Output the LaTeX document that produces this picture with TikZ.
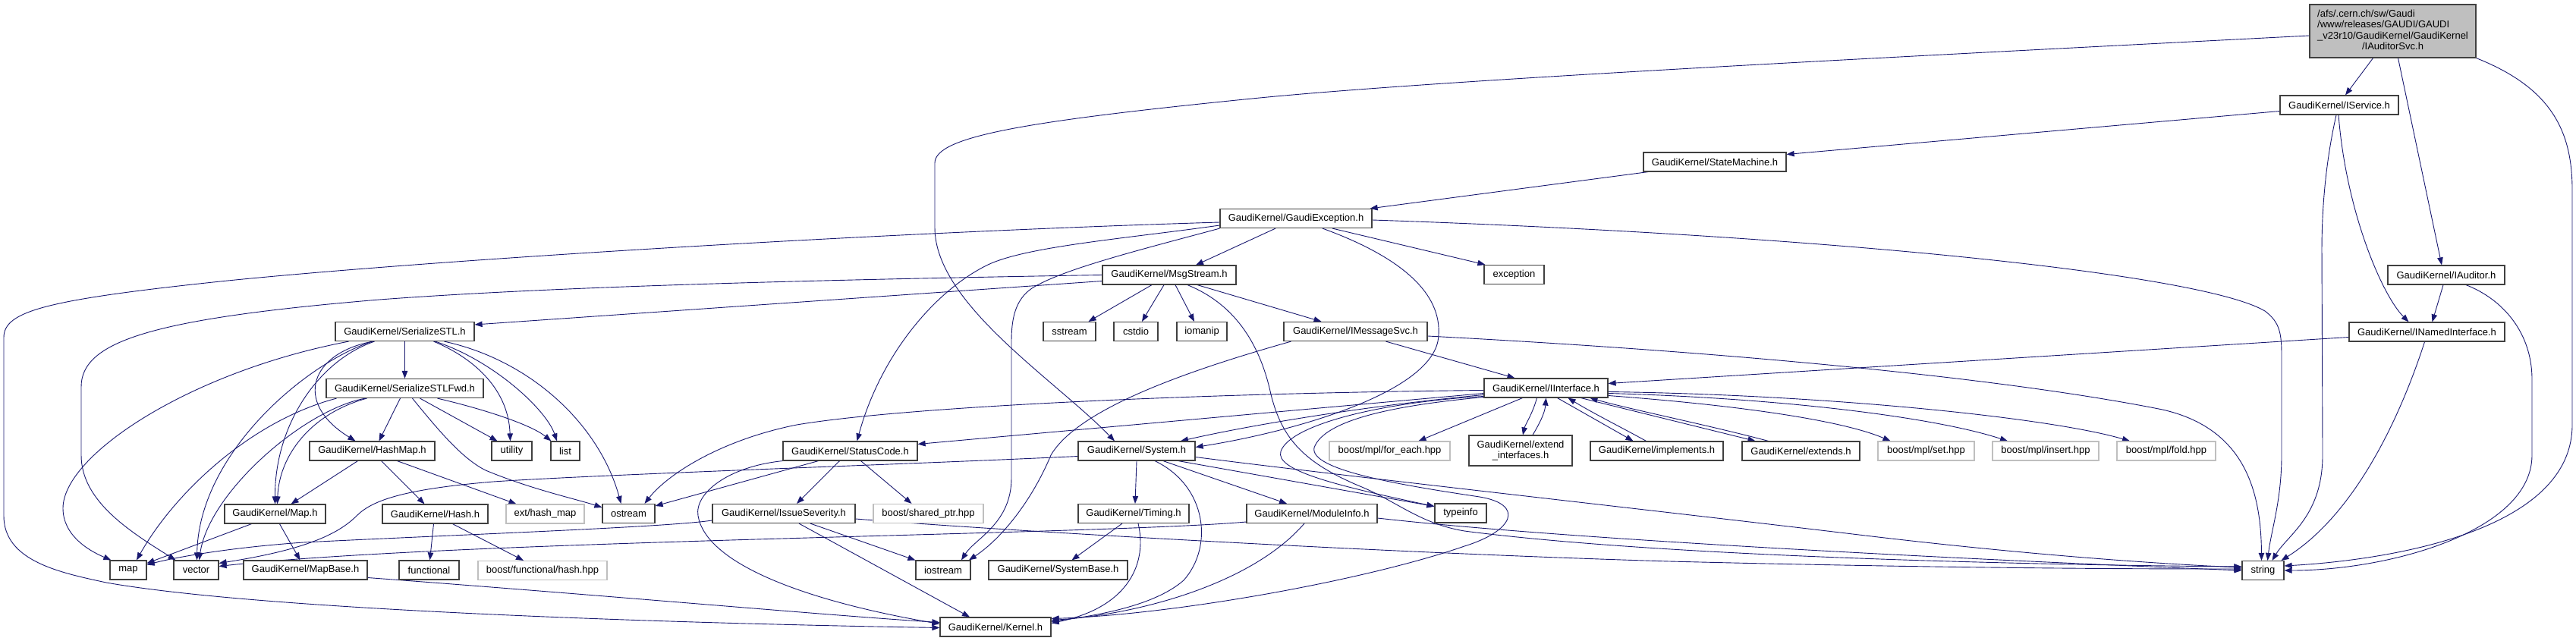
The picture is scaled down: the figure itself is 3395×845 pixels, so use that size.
\documentclass[tikz,border=0pt]{standalone}
\usepackage{fontspec}
\setmainfont{Liberation Sans}
\usetikzlibrary{arrows.meta,backgrounds}
\definecolor{edgec}{RGB}{25,25,112}
\definecolor{gray75}{HTML}{BFBFBF}
\begin{document}
\begin{tikzpicture}[x=1pt,y=-1pt,
  box/.style={draw=black!75,line width=1.2pt,fill=white,inner sep=0pt,minimum height=25pt,
    font=\fontsize{13}{14.5}\selectfont,align=center},
  gbox/.style={box,draw=gray75},
  dep/.style={draw=edgec,line width=0.9pt,-{Triangle[length=10pt,width=7.5pt]}},
]
\useasboundingbox (0,0) rectangle (3395,845);
% ---------- nodes ----------
\node[box,fill=gray75,minimum width=219pt,minimum height=70pt] (main) at (3153.5,41)
  {\begin{tabular}{@{}l@{}}/afs/.cern.ch/sw/Gaudi\\/www/releases/GAUDI/GAUDI\\\_v23r10/GaudiKernel/GaudiKernel\\\multicolumn{1}{@{}c@{}}{/IAuditorSvc.h}\end{tabular}};
\node[box,minimum width=156pt] (iserv) at (3083,138.5) {GaudiKernel/IService.h};
\node[box,minimum width=188pt] (state) at (2260,213.5) {GaudiKernel/StateMachine.h};
\node[box,minimum width=200pt] (gexc) at (1708,288) {GaudiKernel/GaudiException.h};
\node[box,minimum width=176pt] (msg) at (1541,362.5) {GaudiKernel/MsgStream.h};
\node[box,minimum width=79pt] (exc) at (1995.5,362) {exception};
\node[box,minimum width=69pt] (sstream) at (1409.5,437) {sstream};
\node[box,minimum width=58pt] (cstdio) at (1497,437) {cstdio};
\node[box,minimum width=66pt] (iomanip) at (1584,437) {iomanip};
\node[box,minimum width=189pt] (imsg) at (1786.5,437) {GaudiKernel/IMessageSvc.h};
\node[box,minimum width=183pt] (sstl) at (533.5,437) {GaudiKernel/SerializeSTL.h};
\node[box,minimum width=154pt] (iaud) at (3224,362.5) {GaudiKernel/IAuditor.h};
\node[box,minimum width=205pt] (inamed) at (3198.5,437.5) {GaudiKernel/INamedInterface.h};
\node[box,minimum width=163pt] (iint) at (2037.5,511.5) {GaudiKernel/IInterface.h};
\node[box,minimum width=207pt] (fwd) at (533.5,512) {GaudiKernel/SerializeSTLFwd.h};
\node[box,minimum width=165pt] (hashmap) at (490.5,594.5) {GaudiKernel/HashMap.h};
\node[box,minimum width=53pt] (utility) at (674.5,594.5) {utility};
\node[box,minimum width=38pt] (list) at (745,594.5) {list};
\node[box,minimum width=177pt] (status) at (1120.5,594.5) {GaudiKernel/StatusCode.h};
\node[box,minimum width=154pt] (system) at (1498,594.5) {GaudiKernel/System.h};
\node[gbox,minimum width=159pt] (foreach) at (1831.5,594.5) {boost/mpl/for\_each.hpp};
\node[box,minimum width=136pt,minimum height=40pt] (extif) at (2004,594) {GaudiKernel/extend\\\_interfaces.h};
\node[box,minimum width=175pt] (impl) at (2183.5,594.5) {GaudiKernel/implements.h};
\node[box,minimum width=155pt] (extends) at (2373.5,594.5) {GaudiKernel/extends.h};
\node[gbox,minimum width=127pt] (set) at (2538.5,594.5) {boost/mpl/set.hpp};
\node[gbox,minimum width=140pt] (insert) at (2696,594.5) {boost/mpl/insert.hpp};
\node[gbox,minimum width=130pt] (fold) at (2855,594.5) {boost/mpl/fold.hpp};
\node[box,minimum width=133pt] (map2) at (362.5,677.5) {GaudiKernel/Map.h};
\node[box,minimum width=139pt] (hash) at (573.5,677.5) {GaudiKernel/Hash.h};
\node[gbox,minimum width=103pt] (exthm) at (718.5,677.5) {ext/hash\_map};
\node[box,minimum width=69pt] (ostream) at (828.5,677) {ostream};
\node[box,minimum width=188pt] (issue) at (1033,677) {GaudiKernel/IssueSeverity.h};
\node[gbox,minimum width=145pt] (shptr) at (1223.5,677) {boost/shared\_ptr.hpp};
\node[box,minimum width=146pt] (timing) at (1494,677) {GaudiKernel/Timing.h};
\node[box,minimum width=172pt] (modinfo) at (1729,677) {GaudiKernel/ModuleInfo.h};
\node[box,minimum width=68pt] (typeinfo) at (1925,676.5) {typeinfo};
\node[box,minimum width=48pt] (map) at (169,751.5) {map};
\node[box,minimum width=59pt] (vector) at (258.5,751.5) {vector};
\node[box,minimum width=163pt] (mapbase) at (402.5,751.5) {GaudiKernel/MapBase.h};
\node[box,minimum width=79pt] (functional) at (565.5,751.5) {functional};
\node[gbox,minimum width=170pt] (bfhash) at (715,752) {boost/functional/hash.hpp};
\node[box,minimum width=72pt] (iostream) at (1243,751.5) {iostream};
\node[box,minimum width=183pt] (sysbase) at (1394.5,751.5) {GaudiKernel/SystemBase.h};
\node[box,minimum width=55pt] (string) at (2982.5,752) {string};
\node[box,minimum width=146pt] (kernel) at (1312,826.5) {GaudiKernel/Kernel.h};
% ---------- edges ----------
\begin{pgfonlayer}{background}
% IAuditorSvc
\draw[dep] ([xshift=-26]main.south) -- ([xshift=8]iserv.north);
\draw[dep] ([xshift=7]main.south) -- ([xshift=-6]iaud.north);
\draw[dep] (main.south east) .. controls (3360,115) and (3390,170) .. (3390,250) -- (3390,560) .. controls (3390,700) and (3150,738) .. ([yshift=6]string.east);
\draw[dep] ([yshift=-6]main.west) .. controls (2500,75) and (1900,105) .. (1650,130) .. controls (1350,160) and (1232,180) .. (1232,215) -- (1232,300) .. controls (1232,400) and (1390,500) .. ([xshift=-29]system.north);
% IService
\draw[dep] ([yshift=-8]iserv.west) -- ([yshift=10]state.east);
\draw[dep] ([xshift=-1]iserv.south) .. controls (3092,280) and (3140,390) .. ([xshift=-24]inamed.north);
\draw[dep] ([xshift=-4]iserv.south) .. controls (3068,200) and (3060,260) .. (3060,330) -- (3061,600) .. controls (3061,680) and (3015,705) .. ([xshift=12]string.north);
% IAuditor
\draw[dep] ([xshift=-4]iaud.south) -- ([xshift=7]inamed.north);
\draw[dep] ([xshift=26]iaud.south) .. controls (3300,395) and (3337,440) .. (3337,500) -- (3337,600) .. controls (3337,700) and (3150,752) .. (string.east);
% INamedInterface
\draw[dep] ([xshift=-3]inamed.south) .. controls (3160,560) and (3100,680) .. ([xshift=24]string.north);
\draw[dep] ([yshift=-7]inamed.west) -- ([yshift=6]iint.east);
% StateMachine
\draw[dep] ([xshift=-88]state.south) -- ([xshift=-3]gexc.north east);
% GaudiException
\draw[dep] ([xshift=-27]gexc.south) -- ([xshift=35]msg.north);
\draw[dep] ([xshift=48]gexc.south) -- ([xshift=2]exc.north west);
\draw[dep] ([yshift=-2]gexc.east) .. controls (2400,310) and (2900,360) .. (2985,410) .. controls (3005,425) and (3007,440) .. (3007,470) -- (3007,600) .. controls (3007,660) and (2993,700) .. ([xshift=6]string.north);
\draw[dep] ([yshift=-5]gexc.west) .. controls (1200,305) and (600,340) .. (300,370) .. controls (60,395) and (5,410) .. (5,445) -- (5,680) .. controls (5,740) and (80,755) .. (140,768) .. controls (350,805) and (900,822) .. ([yshift=-1]kernel.west);
\draw[dep] ([yshift=-9]gexc.west) .. controls (1480,315) and (1350,325) .. (1300,350) .. controls (1230,385) and (1160,470) .. ([xshift=9]status.north);
\draw[dep] (gexc.south west) .. controls (1500,330) and (1400,355) .. (1360,380) .. controls (1338,395) and (1333,420) .. (1333,450) -- (1333,630) .. controls (1333,690) and (1285,710) .. ([xshift=24]iostream.north);
\draw[dep] ([xshift=35]gexc.south) .. controls (1850,340) and (1905,390) .. (1895,450) .. controls (1880,520) and (1700,570) .. ([yshift=5]system.east);
% MsgStream
\draw[dep] ([xshift=-23]msg.south) -- ([xshift=25]sstream.north);
\draw[dep] ([xshift=-7]msg.south) -- ([xshift=8]cstdio.north);
\draw[dep] ([xshift=8]msg.south) -- ([xshift=-10]iomanip.north);
\draw[dep] ([xshift=37]msg.south) -- ([xshift=-45]imsg.north);
\draw[dep] ([xshift=24]msg.south) .. controls (1625,400) and (1660,450) .. (1675,520) .. controls (1690,580) and (1720,610) .. (1790,640) .. controls (1840,660) and (1870,690) .. (1930,700) .. controls (2200,735) and (2700,745) .. ([yshift=5]string.west);
\draw[dep] ([yshift=-8]msg.west) -- ([yshift=9]sstl.east);
\draw[dep] (msg.west) .. controls (1000,370) and (700,380) .. (500,395) .. controls (200,420) and (107,450) .. (107,510) -- (107,600) .. controls (107,660) and (170,700) .. ([xshift=-27]vector.north);
% IMessageSvc
\draw[dep] ([xshift=40]imsg.south) -- ([xshift=-41]iint.north);
\draw[dep] ([xshift=-85]imsg.south) .. controls (1560,490) and (1420,540) .. (1385,600) .. controls (1360,660) and (1320,710) .. ([xshift=34]iostream.north);
\draw[dep] ([yshift=-6]imsg.east) .. controls (2300,465) and (2650,500) .. (2850,540) .. controls (2960,565) and (2980,650) .. ([xshift=-2]string.north);
% SerializeSTL
\draw[dep] (sstl.south) -- (fwd.north);
\draw[dep] ([xshift=38]sstl.south) .. controls (620,470) and (670,510) .. ([xshift=-2]utility.north);
\draw[dep] ([xshift=40]sstl.south) .. controls (650,475) and (720,540) .. ([xshift=-11]list.north);
\draw[dep] ([xshift=52]sstl.south) .. controls (700,475) and (790,560) .. ([xshift=-10]ostream.north);
\draw[dep] ([xshift=-42]sstl.south) .. controls (410,465) and (385,530) .. ([xshift=-22]hashmap.north);
\draw[dep] ([xshift=-40]sstl.south) .. controls (420,475) and (362,560) .. (map2.north);
\draw[dep] ([xshift=-43]sstl.south) .. controls (400,480) and (262,600) .. ([xshift=1]vector.north);
\draw[dep] ([xshift=-74]sstl.south) .. controls (250,490) and (83,600) .. (83,670) .. controls (83,705) and (115,725) .. ([xshift=2]map.north west);
% SerializeSTLFwd
\draw[dep] ([xshift=-6]fwd.south) -- ([xshift=9]hashmap.north);
\draw[dep] ([xshift=20]fwd.south) -- ([xshift=-19]utility.north);
\draw[dep] ([xshift=43]fwd.south) .. controls (640,540) and (700,560) .. ([xshift=1]list.north west);
\draw[dep] ([xshift=10]fwd.south) .. controls (580,570) and (610,605) .. (640,620) .. controls (700,645) and (760,658) .. ([yshift=8]ostream.west);
\draw[dep] ([xshift=-50]fwd.south) .. controls (410,545) and (368,600) .. ([xshift=3]map2.north);
\draw[dep] ([xshift=-52]fwd.south) .. controls (400,540) and (275,650) .. ([xshift=4]vector.north);
\draw[dep] ([xshift=-90]fwd.south) .. controls (330,555) and (230,650) .. ([xshift=11]map.north);
% HashMap
\draw[dep] ([xshift=-19]hashmap.south) -- ([xshift=21]map2.north);
\draw[dep] ([xshift=12]hashmap.south) -- ([xshift=-14]hash.north);
\draw[dep] ([xshift=33]hashmap.south) -- ([xshift=-38]exthm.north);
% Map
\draw[dep] ([xshift=6]map2.south) -- ([xshift=-7]mapbase.north);
\draw[dep] ([xshift=-31]map2.south) -- ([yshift=9]map.east);
% Hash
\draw[dep] ([xshift=-2]hash.south) -- ([xshift=1]functional.north);
\draw[dep] ([xshift=23]hash.south) -- ([xshift=-25]bfhash.north);
% MapBase
\draw[dep] ([yshift=-10]mapbase.east) .. controls (800,785) and (1100,812) .. ([yshift=6]kernel.west);
% StatusCode
\draw[dep] ([xshift=-14]status.south) -- ([xshift=17]issue.north);
\draw[dep] ([xshift=14]status.south) -- ([xshift=-22]shptr.north);
\draw[dep] ([xshift=-42]status.south) -- ([yshift=10]ostream.east);
\draw[dep] (status.south west) .. controls (960,615) and (915,650) .. (920,680) .. controls (930,740) and (1050,790) .. ([yshift=4]kernel.west);
% IssueSeverity
\draw[dep] ([yshift=-9]issue.west) .. controls (880,695) and (600,705) .. (400,715) .. controls (300,722) and (230,735) .. ([yshift=7]map.east);
\draw[dep] ([yshift=-7]issue.east) .. controls (1300,698) and (1800,728) .. (2200,740) .. controls (2600,750) and (2850,750) .. ([yshift=2]string.west);
\draw[dep] ([xshift=35]issue.south) -- ([yshift=13]iostream.west);
\draw[dep] ([xshift=20]issue.south) -- ([xshift=-34]kernel.north);
% System
\draw[dep] (system.south) -- ([xshift=2]timing.north);
\draw[dep] ([xshift=35]system.south) -- ([xshift=-33]modinfo.north);
\draw[dep] ([xshift=24]system.south) .. controls (1590,640) and (1600,720) .. (1560,765) .. controls (1520,800) and (1440,812) .. ([yshift=7]kernel.east);
\draw[dep] ([yshift=-8]system.east) .. controls (1750,625) and (2200,675) .. (2450,705) .. controls (2700,735) and (2880,745) .. ([yshift=4]string.west);
\draw[dep] ([xshift=55]system.south) -- ([yshift=9]typeinfo.west);
\draw[dep] ([yshift=-7]system.west) .. controls (1200,612) and (800,625) .. (650,635) .. controls (530,645) and (490,660) .. (470,680) .. controls (445,705) and (400,725) .. ([yshift=9]vector.east);
% Timing
\draw[dep] ([xshift=-15]timing.south) -- ([xshift=18]sysbase.north);
\draw[dep] ([xshift=6]timing.south) .. controls (1512,740) and (1490,800) .. ([yshift=5]kernel.east);
% ModuleInfo
\draw[dep] ([xshift=-10]modinfo.south) .. controls (1650,770) and (1500,810) .. ([yshift=9]kernel.east);
\draw[dep] ([yshift=-6]modinfo.east) .. controls (2100,715) and (2700,742) .. (string.west);
\draw[dep] ([yshift=-11]modinfo.west) .. controls (1450,705) and (600,712) .. ([yshift=5]vector.east);
% IInterface
\draw[dep] ([yshift=-3]iint.west) .. controls (1600,518) and (1200,535) .. (1050,560) .. controls (950,580) and (880,625) .. ([xshift=21]ostream.north);
\draw[dep] ([yshift=-7]iint.west) -- ([yshift=9]status.east);
\draw[dep] ([yshift=-9]iint.west) .. controls (1800,535) and (1650,560) .. ([xshift=58]system.north);
\draw[dep] ([yshift=-11]iint.west) .. controls (1820,530) and (1700,560) .. (1688,595) .. controls (1680,620) and (1760,640) .. ([yshift=9]typeinfo.west);
\draw[dep] ([yshift=-12]iint.west) .. controls (1830,535) and (1745,555) .. (1732,590) .. controls (1725,620) and (1850,640) .. (1950,655) .. controls (2010,665) and (1995,700) .. (1930,720) .. controls (1800,765) and (1550,810) .. ([yshift=11]kernel.east);
\draw[dep] ([xshift=-12]iint.south) .. controls (2020,545) and (2010,560) .. ([xshift=3]extif.north);
\draw[dep] ([xshift=16]extif.north) .. controls (2028,560) and (2036,545) .. (iint.south);
\draw[dep] ([xshift=15]iint.south) -- ([xshift=-31]impl.north);
\draw[dep] ([xshift=-14]impl.north) .. controls (2140,565) and (2100,545) .. ([xshift=29]iint.south);
\draw[dep] ([xshift=46]iint.south) -- ([xshift=-60]extends.north);
\draw[dep] ([xshift=-43]extends.north) .. controls (2250,560) and (2150,540) .. ([xshift=58]iint.south);
\draw[dep] ([yshift=-10]iint.east) .. controls (2300,535) and (2430,555) .. ([xshift=-47]set.north);
\draw[dep] ([yshift=-7]iint.east) .. controls (2350,525) and (2550,550) .. ([xshift=-50]insert.north);
\draw[dep] ([yshift=-5]iint.east) .. controls (2400,520) and (2700,550) .. ([xshift=-48]fold.north);
\draw[dep] ([xshift=-31]iint.south) -- ([xshift=38]foreach.north);
\end{pgfonlayer}
\end{tikzpicture}
\end{document}
